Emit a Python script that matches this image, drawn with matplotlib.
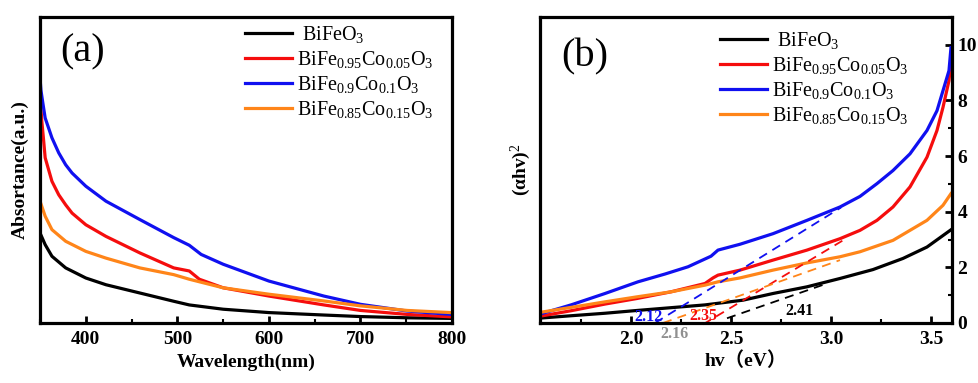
import matplotlib
matplotlib.use("Agg")
import matplotlib.pyplot as plt
from matplotlib.ticker import MultipleLocator

plt.rcParams['font.family'] = ['Liberation Serif', 'Noto Sans CJK SC', 'DejaVu Sans']
plt.rcParams['mathtext.fontset'] = 'custom'
plt.rcParams['mathtext.rm'] = 'Liberation Serif'
plt.rcParams['mathtext.it'] = 'Liberation Serif:italic'
plt.rcParams['mathtext.bf'] = 'Liberation Serif:bold'

labels = [' BiFeO$_3$', 'BiFe$_{0.95}$Co$_{0.05}$O$_3$', 'BiFe$_{0.9}$Co$_{0.1}$O$_3$',
          'BiFe$_{0.85}$Co$_{0.15}$O$_3$']
colors = ['#000000', '#f50d0d', '#1010f0', '#ff8519']

# ---- panel (a): absorbance vs wavelength ----
wl_black = [350, 355.6, 363, 378, 400, 422, 459, 496, 513, 550, 600, 660, 700, 751, 799]
ab_black = [0.294, 0.256, 0.218, 0.180, 0.147, 0.125, 0.098, 0.071, 0.059, 0.045, 0.034, 0.026,
            0.021, 0.017, 0.015]
wl_red = [350, 351.9, 353.5, 355.6, 363, 370.4, 378, 385, 400, 422, 459, 496, 513, 524, 550,
          600, 660, 700, 751, 799]
ab_red = [0.740, 0.660, 0.610, 0.540, 0.463, 0.419, 0.386, 0.359, 0.321, 0.283, 0.229, 0.180,
          0.170, 0.143, 0.115, 0.088, 0.059, 0.041, 0.028, 0.020]
wl_blue = [350, 351, 353, 355.6, 363, 370.4, 378, 385, 400, 422, 459, 496, 513, 526, 550, 600,
           660, 700, 751, 799]
ab_blue = [0.800, 0.760, 0.720, 0.670, 0.605, 0.556, 0.517, 0.490, 0.447, 0.398, 0.338, 0.279,
           0.254, 0.224, 0.192, 0.137, 0.088, 0.061, 0.039, 0.028]
wl_orange = [350, 355.6, 363, 378, 400, 422, 459, 496, 513, 550, 600, 660, 700, 751, 799]
ab_orange = [0.398, 0.349, 0.305, 0.267, 0.234, 0.212, 0.180, 0.158, 0.143, 0.115, 0.094, 0.072,
             0.056, 0.041, 0.034]

# ---- panel (b): Tauc plot ----
hv_black = [1.535, 1.70, 1.87, 2.03, 2.20, 2.37, 2.56, 2.71, 2.88, 3.045, 3.21, 3.36, 3.48, 3.60]
t_black = [0.17, 0.26, 0.35, 0.45, 0.55, 0.65, 0.82, 1.06, 1.30, 1.60, 1.92, 2.32, 2.73, 3.35]
hv_red = [1.535, 1.70, 1.87, 2.03, 2.20, 2.37, 2.41, 2.435, 2.545, 2.71, 2.88, 3.045, 3.145,
          3.23, 3.31, 3.395, 3.48, 3.53, 3.56, 3.59, 3.60]
t_red = [0.23, 0.44, 0.68, 0.88, 1.12, 1.42, 1.62, 1.72, 1.90, 2.26, 2.62, 3.03, 3.33, 3.69,
         4.17, 4.89, 5.96, 6.92, 7.75, 8.71, 9.43]
hv_blue = [1.535, 1.70, 1.87, 2.035, 2.17, 2.285, 2.40, 2.435, 2.545, 2.71, 2.88, 3.045, 3.145,
           3.23, 3.31, 3.395, 3.48, 3.53, 3.56, 3.59, 3.60]
t_blue = [0.30, 0.65, 1.06, 1.48, 1.76, 2.02, 2.40, 2.62, 2.83, 3.21, 3.69, 4.17, 4.55, 5.01,
          5.48, 6.08, 6.92, 7.63, 8.35, 9.07, 9.90]
hv_orange = [1.535, 1.70, 1.87, 2.03, 2.20, 2.37, 2.435, 2.545, 2.71, 2.88, 3.045, 3.145, 3.31,
             3.48, 3.56, 3.60]
t_orange = [0.37, 0.56, 0.76, 0.94, 1.12, 1.36, 1.48, 1.62, 1.90, 2.16, 2.38, 2.56, 2.97, 3.69,
            4.23, 4.65]

# tangent (extrapolation) lines: start and end points
fit_black_x = [2.48, 2.98]
fit_black_y = [0.17, 1.42]
fit_red_x = [2.36, 3.06]
fit_red_y = [-0.05, 2.97]
fit_blue_x = [2.12, 3.05]
fit_blue_y = [0.0, 4.15]
fit_orange_x = [2.16, 3.045]
fit_orange_y = [0.0, 2.26]

gap_text = ['2.12', '2.16', '2.35', '2.41']
gap_pos = [(2.085, 0.21), (2.215, -0.40), (2.36, 0.25), (2.845, 0.43)]
gap_colors = ['#1010f0', '#909090', '#f50d0d', '#000000']

fig = plt.figure(figsize=(9.79, 3.83), dpi=100)
axa = fig.add_axes([0.0409, 0.1567, 0.4208, 0.799])
axb = fig.add_axes([0.5516, 0.1567, 0.4208, 0.799])

lw = 2.3
for x, y, c, l in zip([wl_black, wl_red, wl_blue, wl_orange],
                      [ab_black, ab_red, ab_blue, ab_orange], colors, labels):
    axa.plot(x, y, color=c, lw=lw, label=l, solid_joinstyle='round')
axa.set_xlim(350, 800)
axa.set_ylim(0, 1.0)
axa.set_yticks([])
axa.xaxis.set_major_locator(MultipleLocator(100))
axa.xaxis.set_minor_locator(MultipleLocator(50))
axa.set_xlabel('Wavelength(nm)', fontsize=14, fontweight='bold', labelpad=4)
axa.set_ylabel('Absortance(a.u.)', fontsize=14, fontweight='bold', labelpad=8)
axa.text(0.104, 0.886, '(a)', transform=axa.transAxes, fontsize=29, ha='center', va='center')

for x, y, c, l in zip([hv_black, hv_red, hv_blue, hv_orange],
                      [t_black, t_red, t_blue, t_orange], colors, labels):
    axb.plot(x, y, color=c, lw=lw, label=l, solid_joinstyle='round')
for x, y, c in zip([fit_black_x, fit_red_x, fit_blue_x, fit_orange_x],
                   [fit_black_y, fit_red_y, fit_blue_y, fit_orange_y], colors):
    axb.plot(x, y, color=c, lw=1.3, ls=(0, (5, 3.5)), clip_on=False)
for t, p, c in zip(gap_text, gap_pos, gap_colors):
    axb.text(p[0], p[1], t, color=c, fontsize=11.5, fontweight='bold', ha='center', va='center')

axb.set_xlim(1.545, 3.605)
axb.set_ylim(0, 11.0)
axb.xaxis.set_major_locator(MultipleLocator(0.5))
axb.xaxis.set_minor_locator(MultipleLocator(0.25))
axb.yaxis.set_major_locator(MultipleLocator(2))
axb.yaxis.set_minor_locator(MultipleLocator(1))
axb.yaxis.tick_right()
axb.set_xlabel('hv（eV）', fontsize=14, fontweight='bold', labelpad=2)
axb.set_ylabel('(αhv)$^2$', fontsize=14, fontweight='bold', labelpad=5)
axb.text(0.109, 0.869, '(b)', transform=axb.transAxes, fontsize=29, ha='center', va='center')

for ax in (axa, axb):
    for s in ax.spines.values():
        s.set_linewidth(2.3)
    ax.tick_params(which='major', direction='in', length=5, width=2, labelsize=14, pad=6)
    ax.tick_params(which='minor', direction='in', length=3, width=1.5)
    for lab in ax.get_xticklabels() + ax.get_yticklabels():
        lab.set_fontweight('bold')

axb.tick_params(axis='y', which='both', left=False, right=True, pad=4)
axb.tick_params(axis='x', which='both', top=False)
axa.tick_params(axis='x', which='both', top=False)

leg_kw = dict(frameon=False, fontsize=14.5, handlelength=2.35, handletextpad=0.25,
              labelspacing=0.2, borderpad=0, borderaxespad=0, loc='upper left')
axa.legend(bbox_to_anchor=(0.497, 0.978), **leg_kw)
axb.legend(bbox_to_anchor=(0.437, 0.958), **leg_kw)

fig.savefig('out.png', dpi=100)
